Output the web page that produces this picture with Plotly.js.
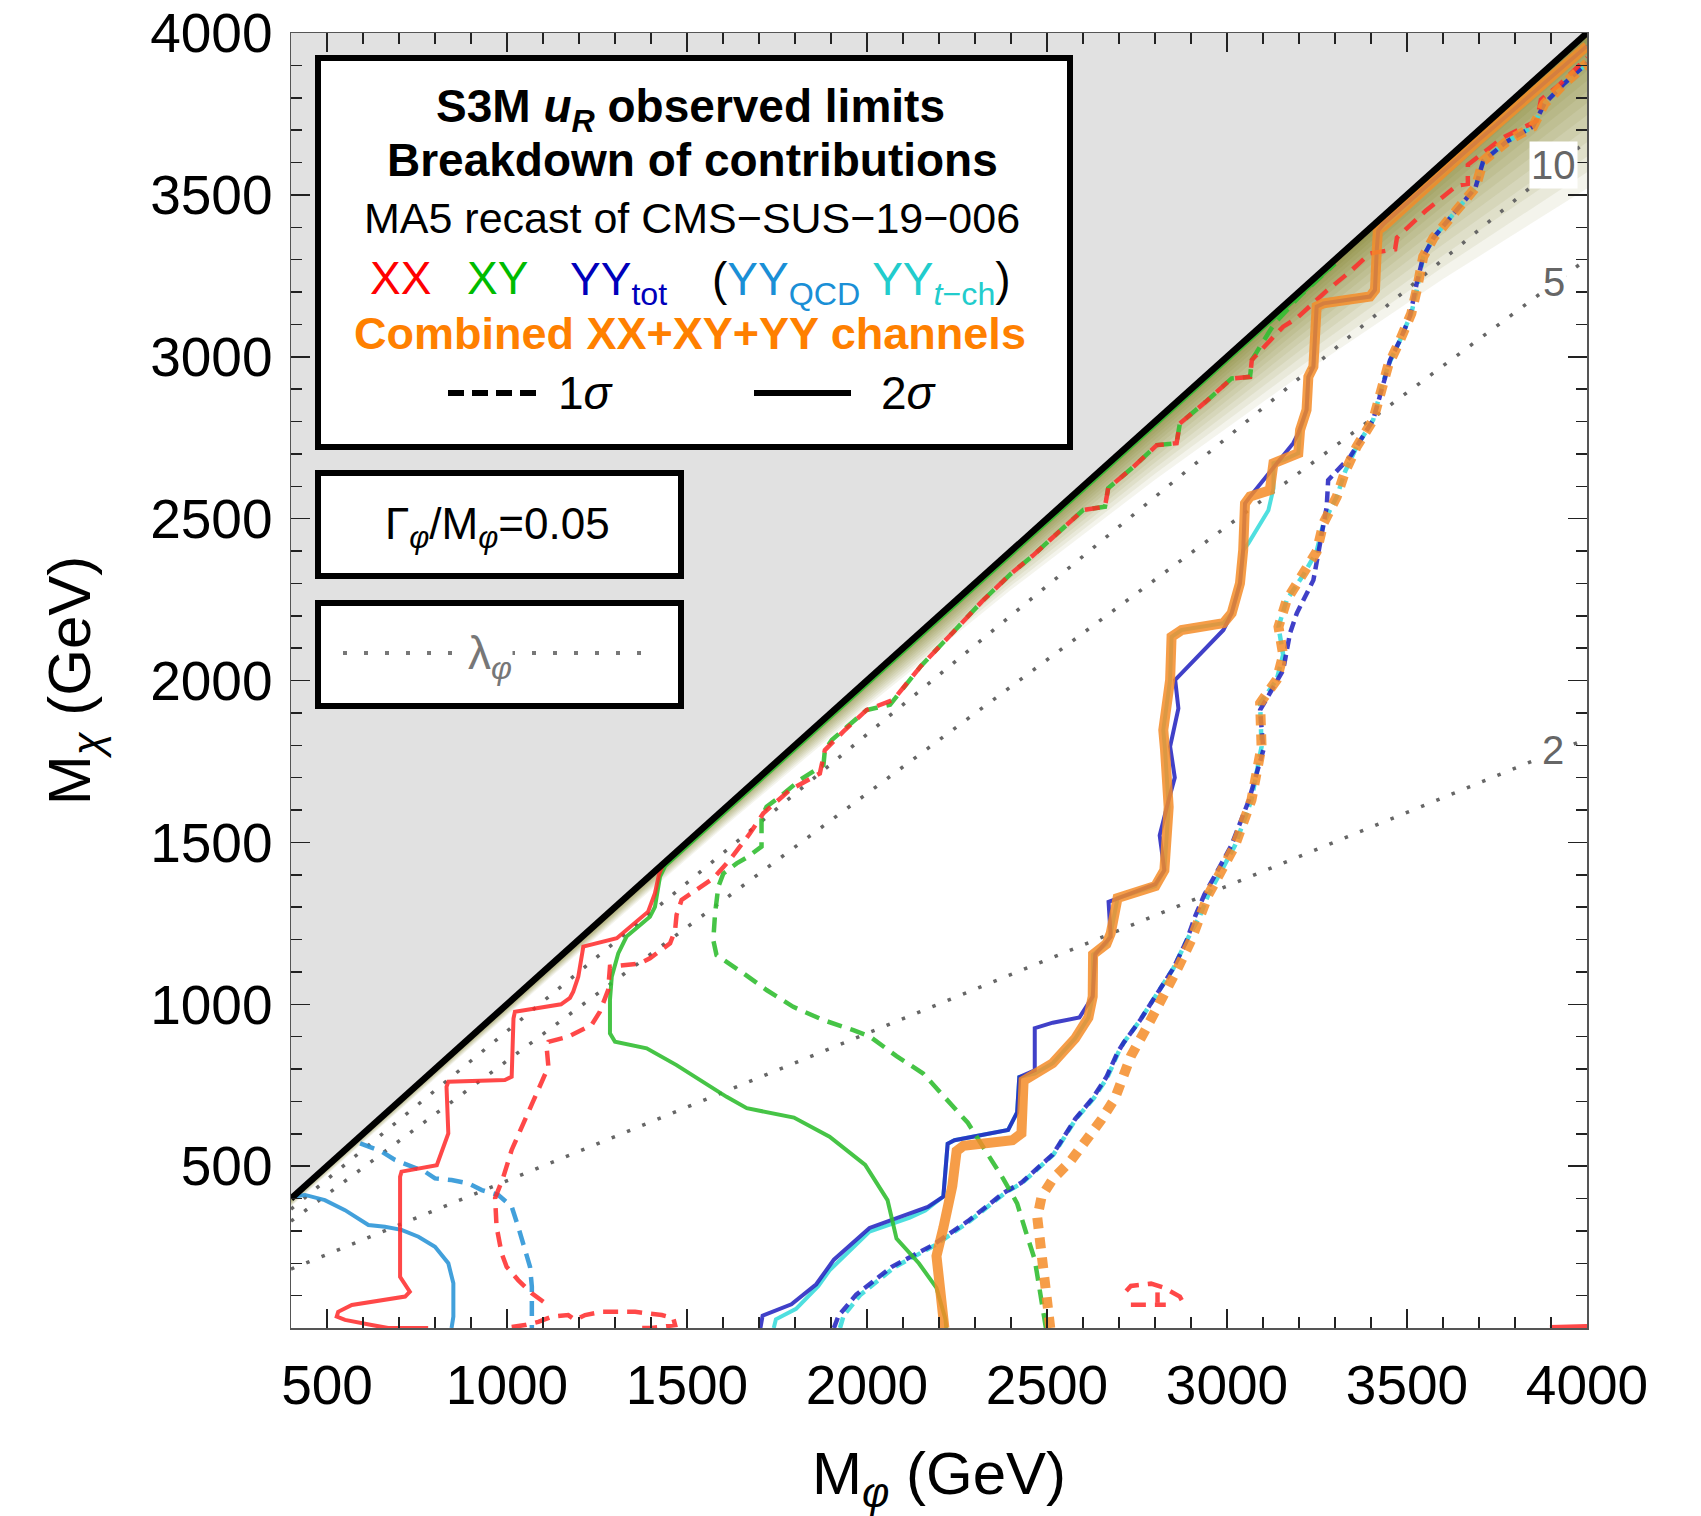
<!DOCTYPE html>
<html><head><meta charset="utf-8">
<script src="https://cdn.plot.ly/plotly-3.0.1.min.js"></script>
<style>html,body{margin:0;padding:0;background:#fff;} #chart{width:1701px;height:1516px;}</style>
</head><body><div id="chart"></div>
<script>
// ---------- axes ----------
const xTickVals = [500, 1000, 1500, 2000, 2500, 3000, 3500, 4000];
const xTickText = ['500', '1000', '1500', '2000', '2500', '3000', '3500', '4000'];
const yTickVals = [500, 1000, 1500, 2000, 2500, 3000, 3500, 4000];
const yTickText = ['500', '1000', '1500', '2000', '2500', '3000', '3500', '4000'];
const xRange = [400, 4000];
const yRange = [0, 4000];

// ---------- kinematic boundary M_chi = M_phi ----------
const diagX = [400, 4000];
const diagY = [400, 4000];

// shading below the boundary (depth in GeV where it fades out)
const shadeX = [400, 800, 1200, 1600, 2000, 2400, 2800, 3200, 3600, 4000];
const shadeDepth = [25, 30, 40, 55, 80, 120, 180, 260, 360, 480];

// ---------- lambda_phi contours (dotted) ----------
const lam2X = [400, 4000];  const lam2Y = [182, 1820];
const lam5X = [400, 4000];  const lam5Y = [330, 3302];
const lam10X = [400, 4000]; const lam10Y = [367, 3667];
const lamLabelText = ['10', '5', '2'];
const lamLabelX = [3908, 3908, 3906];
const lamLabelY = [3592, 3232, 1786];

// ---------- XX (red) ----------
const xx2X = [781,670,624,550,527,531,569,717,730,703, 703,707,805,837,832,837,994,1013,1018,1022,
  1150,1175,1184,1198,1212,1286,1305,1392,1411,1422, 1432, null, 3897,3950,4000];
const xx2Y = [0,0,9,25,35,50,71,97,112,158, 467,483,503,601,745,761,766,776,956,977,
  1000,1020,1039,1085,1178,1198,1204,1286,1343,1400, 1428, null, 3,5,6];
const xx1X = [1101,1069,1031,999,985,971,967,990,1013,1041, 1069,1096,1115,1110,1115,1170,1235,1258,1281,1286,
  1369,1397,1453,1467,1471,1485,1573,1619,1675,1712, 1786,1869,1883,1934,1999,2073,2150,2240,2320,2400,
  2460,2508,2601,2661,2670,2740,2805,2860,2869,2940, 3013,3064,3069,3156,3194,3275,3342,3397,3467,3472,
  3552,3638,3669,3669,3765,3861,3872,3925,4000,
  null, 1013,1050,1087,1124,1170,1189,1217,1263,1356,1430,1462,1467,1402,1365,
  null, 2720,2733,2789,2826,2869,2882, null, 2733,2830, null, 2807,2807];
const xx1Y = [81,107,148,189,231,313,401,467,550,622, 694,756,807,869,884,900,936,977,1044,1116,
  1126,1142,1188,1229,1276,1322,1389,1446,1528,1590, 1662,1713,1785,1842,1909,1940,2045,2150,2245,2330,
  2385,2434,2527,2537,2594,2660,2727,2733,2794,2860, 2933,2938,2990,3093,3119,3202,3263,3319,3332,3368,
  3451,3528,3534,3593,3676,3729,3794,3842,3924,
  null, 3,9,19,35,40,25,40,50,50,40,30,9,0,0,
  null, 114,130,137,124,97,70, null, 72,72, null, 110,78];

// ---------- XY (green) ----------
const xy2X = [2220,2218,2193,2144,2082,2057,1995,1896,1797,1666, 1610,1536,1471,1388,1300,1286,1286,1291,1309,1332,
  1397,1411,1425,1440,1600,2000,2600,3000,3300];
const xy2Y = [0,27,124,200,276,395,504,591,650,679, 714,766,812,864,884,910,1013,1085,1157,1209,
  1270,1301,1394,1428,1588,1988,2588,2988,3288];
const xy1X = [2497,2479,2466,2441,2417,2379,2330,2280,2218,2156, 2082,2008,1962,1879,1795,1721,1656,1582,1573,1578,
  1587,1601,1638,1670,1707,1707,1721,1758,1814,1879, 1883,1902,1934,1999,2064,2150,2240,2320,2400,2460,
  2508,2601,2661,2670,2740,2805,2860,2869,2940,3013, 3064,3069,3130,3200,3300];
const xy1Y = [0,114,211,298,385,460,547,634,710,786, 840,900,920,951,992,1044,1096,1152,1198,1281,
  1363,1404,1435,1456,1487,1579,1610,1641,1693,1739, 1785,1816,1847,1909,1925,2045,2150,2245,2330,2385,
  2434,2527,2537,2594,2660,2727,2733,2794,2860,2933, 2938,2990,3100,3185,3288];

// ---------- YY total (dark blue) ----------
const yy2X = [1704,1710,1790,1859,1908,2007,2169,2212,2224,2243, 2392,2417,2423,2466,2466,2516,2590,2627,2634,2677,
  2671,2801,2826,2813,2838,2855,2842,2865,2856,2990, 3013,3036,3045,3050,3064,3184,3198,3221,3226,3240,
  3249,3268,3397,3411,3416,3420,3435,3700,4000];
const yy2Y = [0,38,73,135,211,309,374,406,569,580, 612,666,775,796,926,943,959,1024,1154,1208,
  1316,1371,1414,1522,1631,1700,1796,1914,2002,2156, 2208,2300,2403,2547,2568,2733,2764,2836,2938,2969,
  3155,3165,3186,3206,3330,3390,3410,3670,3960];
const yy1X = [1908,1921,1970,2069,2181,2280,2379,2429,2516,2578, 2627,2665,2696,2714,2757,2801,2851,2888,2912,2937,
  2975,3012,3061,3101,3092,3156,3175,3194,3240,3254, 3277,3281,3342,3406,3434,3453,3481,3508,3527,3545,
  3574,3638,3690,3712,3776,3850,3882,3935,4000];
const yy1Y = [0,38,103,189,255,330,417,449,536,645, 710,775,851,883,948,1024,1111,1197,1273,1338,
  1414,1490,1631,1785,1909,2032,2146,2208,2310,2403, 2537,2619,2691,2805,2918,2990,3052,3124,3227,3309,
  3368,3451,3522,3605,3664,3711,3782,3842,3907];

// ---------- YY QCD (light blue) ----------
const yyq2X = [406,439,494,550,615,661,707,754,800,837,851,851,846];
const yyq2Y = [406,411,395,364,318,313,303,282,251,200,138,35,0];
const yyq1X = [592,652,689,735,772,800,846,892,930,976,1013,1031,1050,1064,1069,1069];
const yyq1Y = [570,545,519,498,483,462,457,447,426,411,375,313,241,189,128,0];

// ---------- YY t-channel (cyan) ----------
const yyt2X = [1741,1747,1803,1865,1896,2007,2119,2162,2212,2224, 2243,2392,2417,2423,2466,2516,2578,2615,2627,2628,
  2665,2677,2696,2801,2826,2838,2828,2823,2842,2846, 2874,2990,3013,3036,3045,3059,3115,3129,3129,3156,
  3198,3203,3221,3226,3240,3249,3268,3397,3411,3416, 3419,3435,3700,4000];
const yyt2Y = [0,27,59,130,178,298,341,363,406,569, 580,612,666,775,786,818,894,959,1024,1154,
  1186,1219,1328,1365,1414,1609,1784,1847,2002,2135, 2156,2177,2208,2300,2403,2423,2526,2593,2671,2681,
  2702,2774,2836,2938,2969,3155,3165,3186,3206,3330, 3391,3403,3670,3960];
const yyt1X = [1925,1935,1982,2078,2188,2285,2383,2432,2518,2580, 2630,2668,2698,2714,2757,2801,2851,2888,2925,2948,
  2985,3022,3068,3096,3092,3138,3156,3143,3166,3212, 3249,3268,3305,3328,3360,3406,3425,3448,3481,3512,
  3527,3545,3574,3638,3690,3712,3776,3850,3882,3935, 4000];
const yyt1Y = [0,38,103,189,255,330,417,449,536,645, 710,775,851,883,948,1024,1111,1197,1273,1338,
  1414,1490,1631,1796,1930,2002,2079,2166,2249,2326, 2398,2486,2568,2645,2722,2805,2887,2974,3052,3134,
  3206,3309,3368,3451,3522,3605,3664,3711,3782,3842, 3907];

// ---------- Combined (orange) ----------
const cb2X = [2215,2206,2193,2212,2237,2249,2268,2404,2429,2435, 2466,2516,2578,2615,2627,2628,2665,2677,2696,2801,
  2826,2838,2828,2823,2842,2846,2874,2990,3013,3036, 3045,3050,3064,3119,3129,3156,3198,3203,3221,3226,
  3240,3249,3268,3397,3411,3416,3419,3435,3700,4000];
const cb2Y = [0,124,222,309,439,547,563,580,601,764, 786,818,894,959,1024,1154,1186,1219,1328,1365,
  1414,1609,1784,1847,2002,2135,2156,2177,2208,2300, 2403,2547,2568,2588,2671,2681,2702,2774,2836,2938,
  2969,3155,3165,3186,3206,3330,3391,3403,3670,3960];
const cb1X = [2509,2503,2485,2473,2485,2516,2565,2603,2652,2689, 2714,2733,2776,2826,2863,2900,2925,2948,2985,3022,
  3068,3096,3092,3138,3156,3143,3166,3212,3249,3268, 3305,3328,3360,3406,3425,3448,3481,3512,3527,3545,
  3574,3638,3690,3712,3776,3850,3882,3935,4000];
const cb1Y = [0,70,222,341,406,460,515,569,645,710, 775,840,926,1024,1111,1197,1273,1338,1414,1490,
  1631,1796,1930,2002,2079,2166,2249,2326,2398,2486, 2568,2645,2722,2805,2887,2974,3052,3134,3206,3309,
  3368,3451,3522,3605,3664,3711,3782,3842,3907];

// ---------- colours ----------
const C = {
  red: 'rgba(255,40,40,0.85)', green: 'rgba(50,190,50,0.9)', blue: 'rgba(30,30,190,0.85)',
  qcd: 'rgba(45,150,215,0.9)', tch: 'rgba(60,220,220,0.9)', orange: 'rgba(245,140,40,0.85)',
  lam: '#666666'
};

function ln(x, y, color, width, dash) {
  return {x: x, y: y, mode: 'lines', type: 'scatter', hoverinfo: 'skip', connectgaps: false,
          line: {color: color, width: width, dash: dash || 'solid'}};
}

const traces = [];
// excluded region above the diagonal
traces.push({x: [diagX[0], diagX[1], diagX[0]], y: [diagY[0], diagY[1], yRange[1]], mode: 'lines',
  fill: 'toself', fillcolor: '#e1e1e1', line: {width: 0, color: '#e1e1e1'}, hoverinfo: 'skip'});
// fading shading just below the diagonal (many thin translucent bands)
const NB = 16;
for (let k = NB; k >= 1; k--) {
  const f = Math.pow(k / NB, 1.7);
  const rev = shadeX.slice().reverse();
  const revD = shadeDepth.slice().reverse();
  traces.push({x: shadeX.concat(rev), y: shadeX.concat(rev.map(function (v, i) { return v - f * revD[i]; })),
    mode: 'lines', fill: 'toself', fillcolor: 'rgba(110,110,0,0.075)', line: {width: 0, color: 'rgba(0,0,0,0)'},
    hoverinfo: 'skip'});
}
// lambda contours
traces.push(ln(lam2X, lam2Y, C.lam, 3.5, '3.5px,13px'));
traces.push(ln(lam5X, lam5Y, C.lam, 3.5, '3.5px,13px'));
traces.push(ln(lam10X, lam10Y, C.lam, 3.5, '3.5px,13px'));
// YY QCD
traces.push(ln(yyq2X, yyq2Y, C.qcd, 4));
traces.push(ln(yyq1X, yyq1Y, C.qcd, 4.5, '15px,9px'));
// YY t-channel
traces.push(ln(yyt2X, yyt2Y, C.tch, 4));
traces.push(ln(yyt1X, yyt1Y, C.tch, 4.5, '11px,6px'));
// YY total
traces.push(ln(yy2X, yy2Y, C.blue, 4));
traces.push(ln(yy1X, yy1Y, C.blue, 4.5, '11px,6px'));
// XY
traces.push(ln(xy1X, xy1Y, C.green, 4.5, '15px,9px'));
traces.push(ln(xy2X, xy2Y, C.green, 4));
// XX
traces.push(ln(xx1X, xx1Y, C.red, 4.5, '15px,9px'));
traces.push(ln(xx2X, xx2Y, C.red, 4));
// Combined
traces.push(ln(cb2X, cb2Y, C.orange, 10));
traces.push(ln(cb1X, cb1Y, C.orange, 10, '11px,9px'));
// diagonal boundary
traces.push(ln(diagX, diagY, '#000', 6.5));

// ---------- helpers for the legend boxes (pixel -> paper) ----------
const PL = 291, PT = 33, PW = 1296, PH = 1295;
function px(X) { return (X - PL) / PW; }
function py(Y) { return (PT + PH - Y) / PH; }

const FONT = 'Liberation Sans, Arial, Helvetica, sans-serif';
const shapes = [
  {type: 'rect', xref: 'paper', yref: 'paper', x0: px(318), x1: px(1070), y0: py(447), y1: py(58),
   line: {color: '#000', width: 6}, fillcolor: '#fff', layer: 'above'},
  {type: 'rect', xref: 'paper', yref: 'paper', x0: px(318), x1: px(681), y0: py(576), y1: py(473),
   line: {color: '#000', width: 6}, fillcolor: '#fff', layer: 'above'},
  {type: 'rect', xref: 'paper', yref: 'paper', x0: px(318), x1: px(681), y0: py(706), y1: py(603),
   line: {color: '#000', width: 6}, fillcolor: '#fff', layer: 'above'},
  {type: 'line', xref: 'paper', yref: 'paper', x0: px(448), x1: px(538), y0: py(393), y1: py(393),
   line: {color: '#000', width: 6, dash: '16px,8px'}, layer: 'above'},
  {type: 'line', xref: 'paper', yref: 'paper', x0: px(754), x1: px(851), y0: py(393), y1: py(393),
   line: {color: '#000', width: 6}, layer: 'above'},
  {type: 'line', xref: 'paper', yref: 'paper', x0: px(343), x1: px(652), y0: py(653), y1: py(653),
   line: {color: '#777', width: 4, dash: '4px,17px'}, layer: 'above'}
];

function pann(text, X, Y, size, color, extra) {
  const a = {text: text, xref: 'paper', yref: 'paper', x: px(X), y: py(Y), showarrow: false,
    xanchor: 'center', yanchor: 'middle', font: {family: FONT, size: size, color: color || '#000'}};
  return Object.assign(a, extra || {});
}

const annotations = [
  pann('<b>S3M <i>u</i><sub><i>R</i></sub> observed limits</b>', 690, 110, 46),
  pann('<b>Breakdown of contributions</b>', 692, 160, 46),
  pann('MA5 recast of CMS\u2212SUS\u221219\u2212006', 692, 218, 43),
  pann('XX', 400, 278, 46, '#ff0000'),
  pann('XY', 497, 278, 46, '#00bb00'),
  pann('YY<sub>tot</sub>', 618, 283, 46, '#0000bb'),
  pann('(<span style="color:#1a8fd6">YY<sub>QCD</sub></span> <span style="color:#22cccc">YY<sub><i>t</i>\u2212ch</sub></span>)', 861, 283, 46, '#000'),
  pann('<b>Combined XX+XY+YY channels</b>', 690, 333, 45, '#ff8000'),
  pann('1<i>\u03c3</i>', 586, 393, 46),
  pann('2<i>\u03c3</i>', 909, 393, 46),
  pann('\u0393<sub><i>\u03c6</i></sub>/M<sub><i>\u03c6</i></sub>=0.05', 497, 527, 44),
  pann('\u03bb<sub><i>\u03c6</i></sub>', 490, 656, 46, '#777', {bgcolor: '#fff', borderpad: 0})
];
lamLabelText.forEach(function (t, i) {
  annotations.push({text: t, xref: 'x', yref: 'y', x: lamLabelX[i], y: lamLabelY[i], showarrow: false,
    xanchor: 'center', yanchor: 'middle', bgcolor: '#fff', borderpad: 1,
    font: {family: FONT, size: 40, color: '#666'}});
});

const axisCommon = {
  ticks: 'inside', ticklen: 19, tickwidth: 1.5, tickcolor: '#222',
  showline: true, linecolor: '#555', linewidth: 1.5, mirror: 'allticks',
  showgrid: false, zeroline: false, automargin: false,
  tickfont: {family: FONT, size: 55, color: '#000'},
  minor: {tickmode: 'linear', tick0: 0, dtick: 100, ticks: 'inside', ticklen: 11, tickwidth: 1.5,
          tickcolor: '#222', showgrid: false}
};

const layout = {
  width: 1701, height: 1516,
  margin: {l: PL, r: 1701 - PL - PW, t: PT, b: 1516 - PT - PH, pad: 0},
  paper_bgcolor: '#fff', plot_bgcolor: '#fff', showlegend: false,
  font: {family: FONT, color: '#000'},
  xaxis: Object.assign({}, axisCommon, {range: xRange, tickmode: 'array', tickvals: xTickVals, ticktext: xTickText,
    ticklabelstandoff: 8,
    title: {text: 'M<sub><i>\u03c6</i></sub> (GeV)', font: {family: FONT, size: 60, color: '#000'}, standoff: 40}}),
  yaxis: Object.assign({}, axisCommon, {range: yRange, tickmode: 'array', tickvals: yTickVals, ticktext: yTickText,
    ticklabelstandoff: 6,
    title: {text: 'M<sub><i>\u03c7</i></sub> (GeV)', font: {family: FONT, size: 60, color: '#000'}, standoff: 40}}),
  shapes: shapes,
  annotations: annotations
};

Plotly.newPlot('chart', traces, layout, {staticPlot: true, displayModeBar: false});
</script>
</body></html>
